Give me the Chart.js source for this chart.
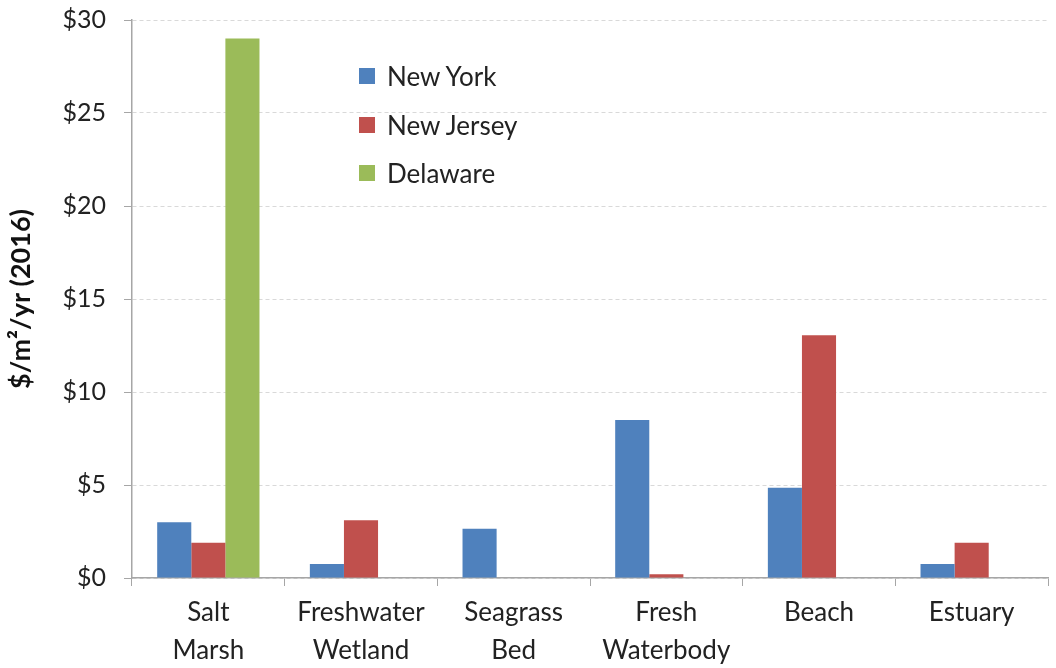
<!DOCTYPE html>
<html>
<head>
<meta charset="utf-8">
<script src="https://cdn.jsdelivr.net/npm/chart.js@4.4.1/dist/chart.umd.min.js"></script>
<style>
  html, body { margin: 0; padding: 0; background: #fff; }
  #wrap { position: relative; width: 1056px; height: 668px; }
  #legend { position: absolute; left: 359px; top: 52px; font-family: Lato, "Open Sans", sans-serif; font-size: 26px; color: #222; }
  .item { display: flex; align-items: center; height: 48.5px; }
  .sw { width: 16px; height: 16px; margin-right: 12px; }
</style>
</head>
<body>
<div id="wrap">
  <canvas id="c" width="1056" height="668"></canvas>
  <div id="legend"></div>
</div>
<script>
const categories = [["Salt", "Marsh"], ["Freshwater", "Wetland"], ["Seagrass", "Bed"], ["Fresh", "Waterbody"], ["Beach"], ["Estuary"]];
const seriesNames = ["New York", "New Jersey", "Delaware"];
const newYork = [3.0, 0.75, 2.65, 8.5, 4.85, 0.75];
const newJersey = [1.9, 3.1, null, 0.2, 13.05, 1.9];
const delaware = [29.0, null, null, null, null, null];
const yTicks = [0, 5, 10, 15, 20, 25, 30];
const colors = ["#4F81BD", "#C0504D", "#9BBB59"];

const font = "Lato, 'Open Sans', sans-serif";
const values = [newYork, newJersey, delaware];

const legend = document.getElementById('legend');
seriesNames.forEach((n, i) => {
  const d = document.createElement('div');
  d.className = 'item';
  d.innerHTML = '<span class="sw" style="background:' + colors[i] + '"></span><span>' + n + '</span>';
  legend.appendChild(d);
});

new Chart(document.getElementById('c'), {
  type: 'bar',
  data: {
    labels: categories,
    datasets: seriesNames.map((n, i) => ({
      label: n,
      data: values[i],
      backgroundColor: colors[i],
      borderWidth: 0,
      categoryPercentage: 0.67,
      barPercentage: 1.0
    }))
  },
  options: {
    responsive: false,
    animation: false,
    layout: { padding: { top: 0, right: 8, left: 0, bottom: 0 } },
    plugins: { legend: { display: false }, tooltip: { enabled: false } },
    scales: {
      x: {
        grid: { offset: true, drawOnChartArea: false, drawTicks: true, tickLength: 8, color: '#A6A6A6' },
        border: { color: '#A6A6A6', width: 1.5 },
        ticks: { color: '#222', font: { family: font, size: 26, lineHeight: 1.46 }, padding: 8, maxRotation: 0, autoSkip: false },
        afterFit: s => { s.height = 90; s.paddingTop = 0; }
      },
      y: {
        min: 0, max: 30,
        afterBuildTicks: s => { s.ticks = yTicks.map(v => ({ value: v })); },
        grid: { color: '#D9D9D9', tickLength: 8, tickColor: '#A6A6A6', tickBorderDash: [] },
        border: { color: '#A6A6A6', width: 1.5, dash: [4, 3] },
        ticks: { color: '#222', font: { family: font, size: 25, lineHeight: 1.0 }, padding: 18, callback: v => '$' + v },
        title: { display: true, text: '$/m²/yr (2016)', color: '#111', font: { family: font, size: 27, weight: 'bold', lineHeight: 1.0 }, padding: { top: 8, bottom: 0 } },
        afterFit: s => { s.width = 132; s.paddingTop = 20; s.paddingBottom = 0; }
      }
    }
  }
});
</script>
</body>
</html>
